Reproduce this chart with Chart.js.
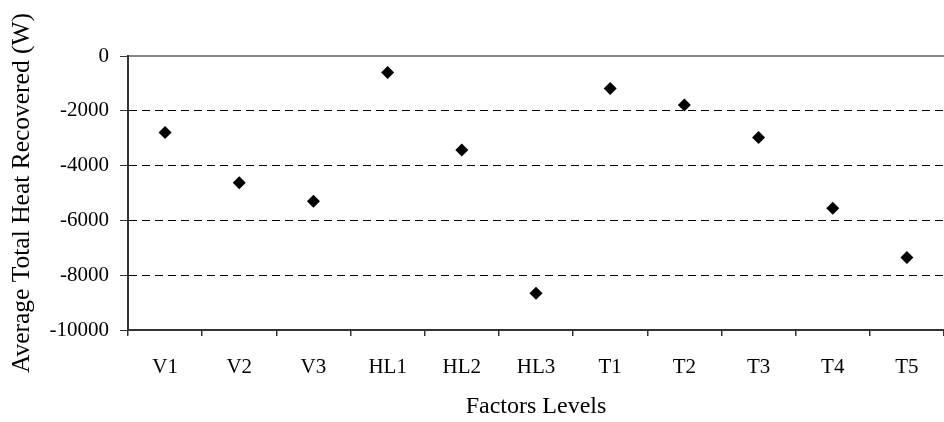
<!DOCTYPE html>
<html>
<head>
<meta charset="utf-8">
<script src="https://cdn.jsdelivr.net/npm/chart.js@4/dist/chart.umd.min.js"></script>
<style>
html,body{margin:0;padding:0;background:#fff;}
#wrap{width:944px;height:422px;position:relative;}
</style>
</head>
<body>
<div id="wrap"><canvas id="heatChart"></canvas></div>
<script>
// factor levels and average heat recovered (W)
const levels = ["V1","V2","V3","HL1","HL2","HL3","T1","T2","T3","T4","T5"];
const heat = [-2790,-4630,-5300,-600,-3430,-8660,-1190,-1790,-2970,-5560,-7350];
const yMin = -10000, yMax = 0, yStep = 2000;

const serif = "'Liberation Serif','Times New Roman',serif";

new Chart(document.getElementById("heatChart"),{
type:"line",
data:{
labels:levels,
datasets:[{
data:heat,
showLine:false,
pointStyle:"rectRot",
pointRadius:6.5,
pointHoverRadius:6.5,
pointBackgroundColor:"#000",
pointBorderWidth:0
}]
},
options:{
responsive:true,
maintainAspectRatio:false,
devicePixelRatio:1,
animation:false,
events:[],
layout:{autoPadding:false,padding:{top:56,right:0,left:0,bottom:0}},
plugins:{legend:{display:false},tooltip:{enabled:false}},
scales:{
x:{
position:"bottom",
offset:true,
afterFit:function(s){s.height=92;s.paddingLeft=0;s.paddingRight=0;},
grid:{offset:true,drawOnChartArea:false,tickLength:6,tickColor:"#333",lineWidth:1.5},
border:{color:"#333",width:2},
ticks:{color:"#000",padding:19,font:{family:serif,size:21}},
title:{display:true,text:"Factors Levels",color:"#000",padding:{top:0,bottom:1},font:{family:serif,size:24}}
},
x2:{
position:"top",
offset:true,
afterFit:function(s){s.height=0;s.paddingLeft=0;s.paddingRight=0;},
grid:{display:false},
ticks:{display:false},
border:{color:"#888",width:2}
},
y:{
min:yMin,
max:yMax,
afterFit:function(s){s.width=128;},
ticks:{stepSize:yStep,color:"#000",padding:11,font:{family:serif,size:21},
callback:function(v){return String(v);}},
grid:{
color:function(c){return (c.tick && (c.tick.value===yMax || c.tick.value===yMin)) ? "rgba(0,0,0,0)" : "#000";},
tickColor:"#333",
tickLength:8,
lineWidth:1
},
border:{color:"#333",width:2,dash:[8,5]},
title:{display:true,text:"Average Total Heat Recovered (W)",color:"#000",padding:{top:7,bottom:0},font:{family:serif,size:25.5}}
}
}
}
});
</script>
</body>
</html>
